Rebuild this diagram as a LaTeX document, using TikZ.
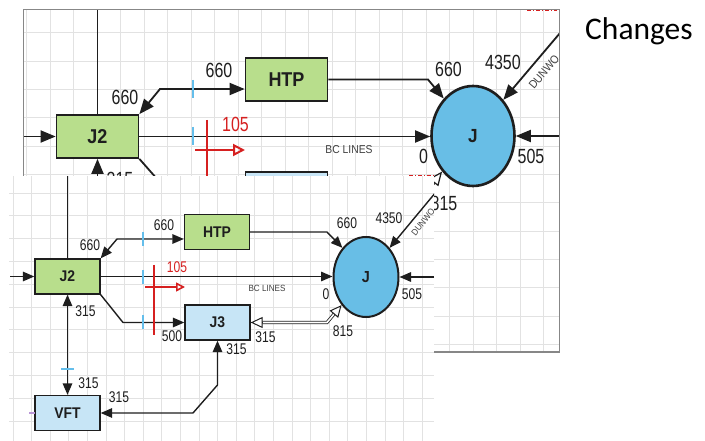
\documentclass[tikz,border=0pt]{standalone}
\usepackage{fontspec}
\setmainfont{Liberation Sans}
\newfontfamily\nar[FakeStretch=0.78]{Liberation Sans}
\newfontfamily\narb[FakeStretch=0.9]{Liberation Sans}
\newfontfamily\calib{Carlito}
\usetikzlibrary{arrows.meta,shapes.geometric,calc}
\definecolor{gfill}{RGB}{184,222,140}
\definecolor{bfill}{RGB}{199,229,246}
\definecolor{cfill}{RGB}{104,190,230}
\definecolor{tickc}{RGB}{100,190,235}
\definecolor{redc}{RGB}{214,32,32}
\definecolor{gridc}{RGB}{226,226,226}
\definecolor{framec}{RGB}{135,135,135}
\definecolor{inkc}{RGB}{30,30,30}
\definecolor{purc}{RGB}{185,150,215}
\tikzset{
  boxa/.style={draw=inkc, line width=1.7pt, minimum width=82pt, minimum height=43pt, inner sep=0pt, font=\narb\bfseries\fontsize{20}{20}\selectfont, text=inkc},
  boxb/.style={draw=inkc, line width=1.3pt, minimum width=65pt, minimum height=35pt, inner sep=0pt, font=\narb\bfseries\fontsize{15.5}{15.5}\selectfont, text=inkc},
  ella/.style={ellipse, draw=inkc, fill=cfill, line width=2.6pt, minimum width=83pt, minimum height=100pt, inner sep=0pt, text=inkc, font=\narb\bfseries\fontsize{19}{19}\selectfont},
  ellb/.style={ellipse, draw=inkc, fill=cfill, line width=2pt, minimum width=65pt, minimum height=80pt, inner sep=0pt, text=inkc, font=\narb\bfseries\fontsize{16}{16}\selectfont},
  wirea/.style={draw=inkc, line width=1.8pt},
  wireb/.style={draw=inkc, line width=1.4pt},
  tipa/.style={-{Triangle[length=15pt,width=12pt]}},
  tipaa/.style={{Triangle[length=15pt,width=12pt]}-{Triangle[length=15pt,width=12pt]}},
  tipb/.style={-{Triangle[length=11.5pt,width=9.5pt]}},
  tipbb/.style={{Triangle[length=11.5pt,width=9.5pt]}-{Triangle[length=11.5pt,width=9.5pt]}},
  lbla/.style={inner sep=0pt, text=inkc, font=\nar\fontsize{20.5}{20.5}\selectfont},
  lblb/.style={inner sep=0pt, text=inkc, font=\nar\fontsize{15.5}{15.5}\selectfont},
  smalla/.style={inner sep=0pt, text=black!75, font=\narb\fontsize{11.5}{11.5}\selectfont},
  smallb/.style={inner sep=0pt, text=black!75, font=\narb\fontsize{9}{9}\selectfont},
  ticka/.style={draw=tickc, line width=2pt},
  tickb/.style={draw=tickc, line width=1.6pt},
  reda/.style={draw=redc, line width=2pt},
  redb/.style={draw=redc, line width=1.6pt},
  dbla/.style={draw=inkc, line width=1pt, double=white, double distance=2pt},
  dblb/.style={draw=inkc, line width=0.8pt, double=white, double distance=1.6pt},
  opena/.style={draw=inkc, line width=1.2pt, -{Triangle[length=14pt,width=12pt,fill=white]}},
  openb/.style={draw=inkc, line width=1pt, -{Triangle[length=12pt,width=11pt,fill=white]}},
}
\begin{document}
\begin{tikzpicture}[x=1pt,y=-1pt]
\useasboundingbox (0,0) rectangle (705,441);
% ================= top (old) panel =================
\fill[white] (23.5,9.5) rectangle (559.5,352);
\begin{scope}
\clip (23.5,9.5) rectangle (559.5,352);
\foreach \i in {-1,...,21} \draw[gridc, line width=1pt] ({50+23.5*\i},9) -- ({50+23.5*\i},352);
\foreach \j in {0,...,11} \draw[gridc, line width=1pt] (23,{33+28.3*\j}) -- (560,{33+28.3*\j});
\node[boxa,fill=gfill] (J2a) at (97.5,136.5) {J2};
\node[boxa,fill=gfill] (HTPa) at (286.5,79.5) {HTP};
\node[boxa,fill=bfill] (J3a) at (286.5,193.5) {J3};
\node[ella] (Ja) at (473,136) {J};
\coordinate (a1) at (97.5,9);
\coordinate (a2) at (23.5,136.5);
\coordinate (a3) at (160,89);
\coordinate (a4) at (428,79.5);
\coordinate (a5) at (560,33);
\coordinate (a6) at (559.5,136);
\coordinate (a7) at (97.5,182);
\coordinate (a8) at (165,188);
\coordinate (a9) at (425,193.5);
\draw[wirea] (a1) -- (J2a.north);
\draw[wirea,tipa] (a2) -- (J2a.west);
\draw[wirea,tipaa] (J2a.north east) -- (a3) -- (HTPa.west |- a3);
\draw[wirea,tipa] (J2a.east) -- (J2a.east -| Ja.west);
\draw[wirea,tipa] (HTPa.east) -- (a4) -- (Ja.128);
\draw[wirea,tipa] (a5) -- (Ja.50);
\draw[wirea,tipa] (a6) -- (Ja.east);
\draw[wirea,tipa] (a7) -- (J2a.south);
\draw[wirea] (J2a.south east) -- (a8);
\draw[dbla, shorten <=12pt, shorten >=12pt] (J3a.east) -- (a9) -- (Ja.229);
\draw[opena] ($(Ja.229)!13pt!(a9)$) -- (Ja.229);
\draw[ticka] (193,80) -- (193,98);
\draw[ticka] (193,127) -- (193,145);
\draw[reda] (207,120) -- (207,182);
\draw[reda,-{Triangle[open,length=12pt,width=12pt]}] (195,150) -- (245,150);
\draw[redc, line width=1pt, dash pattern=on 4pt off 2pt on 1pt off 2pt] (409,175.5) -- (434,175.5);
\draw[redc, line width=1pt, dash pattern=on 4pt off 2pt on 1pt off 2pt] (527,11) -- (557,11);
\node[lbla] (t1) at (125,97) {660};
\node[lbla] (t2) at (219,70.5) {660};
\node[lbla,text=redc] (t3) at (235.5,124.5) {105};
\node[lbla] (t4) at (448.5,69.5) {660};
\node[lbla] (t5) at (503,62.5) {4350};
\node[lbla] (t6) at (423.5,156) {0};
\node[lbla] (t7) at (531,156) {505};
\node[smalla] (t8) at (349,150) {BC LINES};
\node[lbla] (t9) at (120,179) {315};
\node[lbla] (t10) at (444,203.5) {815};
\node[smalla,rotate=50] (t11) at (544,72) {DUNWO};
\end{scope}
\draw[framec, line width=1.8pt] (23.5,9.5) rectangle (559.5,352);
% ================= lower (new) panel =================
\fill[white] (9,176) rectangle (434,441);
\begin{scope}
\clip (9,176) rectangle (434,441);
\foreach \i in {0,...,22} \draw[gridc, line width=0.9pt] ({13.1+18.6*\i},176) -- ({13.1+18.6*\i},441);
\foreach \j in {0,...,10} \draw[gridc, line width=0.9pt] (9,{193+22.8*\j}) -- (434,{193+22.8*\j});
\node[boxb,fill=gfill] (J2b) at (67.5,276.5) {J2};
\node[boxb,fill=gfill] (HTPb) at (217,232) {HTP};
\node[boxb,fill=bfill] (J3b) at (217.5,322.5) {J3};
\node[boxb,fill=bfill] (VFTb) at (67.5,413) {VFT};
\node[ellb] (Jb) at (366,277) {J};
\coordinate (b1) at (67.5,176);
\coordinate (b2) at (10,276.5);
\coordinate (b3) at (117,239);
\coordinate (b4) at (327,232);
\coordinate (b5) at (436,192);
\coordinate (b6) at (434,277);
\coordinate (b7) at (123,322.5);
\coordinate (b8) at (327,322.5);
\coordinate (b9) at (193,413);
\coordinate (b10) at (217.5,385);
\draw[wireb] (b1) -- (J2b.north);
\draw[wireb,tipb] (b2) -- (J2b.west);
\draw[wireb,tipbb] (J2b.north east) -- (b3) -- (HTPb.west |- b3);
\draw[wireb,tipb] (J2b.east) -- (J2b.east -| Jb.west);
\draw[wireb,tipb] (HTPb.east) -- (b4) -- (Jb.129);
\draw[wireb,tipb] (b5) -- (Jb.51);
\draw[wireb,tipb] (b6) -- (Jb.east);
\draw[wireb,tipb] (J2b.south east) -- (b7) -- (J3b.west);
\draw[wireb,tipbb] (J2b.south) -- (VFTb.north);
\draw[wireb,tipbb] (VFTb.east) -- (b9) -- (b10) -- (J3b.south);
\draw[dblb, shorten <=11pt, shorten >=10pt] (J3b.east) -- (b8) -- (Jb.229);
\draw[openb] ([xshift=12pt]J3b.east) -- (J3b.east);
\draw[openb] ($(Jb.229)!11pt!(b8)$) -- (Jb.229);
\draw[tickb] (143,232) -- (143,246);
\draw[tickb] (143,270) -- (143,284);
\draw[tickb] (143,315) -- (143,329);
\draw[tickb] (61,369) -- (74,369);
\draw[purc, line width=1.2pt] (29,413) -- (35,413);
\draw[redb] (154,265) -- (154,335);
\draw[redb,-{Triangle[open,length=9pt,width=9pt]}] (145,287) -- (185,287);
\node[lblb] (s1) at (90,245) {660};
\node[lblb] (s2) at (164,225.5) {660};
\node[lblb,text=redc] (s3) at (177,267) {105};
\node[lblb] (s4) at (85.5,311) {315};
\node[lblb] (s5) at (172,336) {500};
\node[lblb] (s6) at (88.5,383) {315};
\node[lblb] (s7) at (119,397.5) {315};
\node[lblb] (s8) at (236.5,349) {315};
\node[lblb] (s9) at (265.5,337) {315};
\node[lblb] (s10) at (343,331) {815};
\node[lblb] (s11) at (347,223.5) {660};
\node[lblb] (s12) at (389,218.5) {4350};
\node[lblb] (s13) at (326,294) {0};
\node[lblb] (s14) at (412,294) {505};
\node[smallb] (s15) at (267,288) {BC LINES};
\node[smallb,rotate=51] (s16) at (423,222) {DUNWO};
\end{scope}
% ================= caption =================
\node[anchor=base west, inner sep=0pt] (cap) at (585,40) {\calib\fontsize{31.5}{31.5}\selectfont Changes};
\end{tikzpicture}
\end{document}
